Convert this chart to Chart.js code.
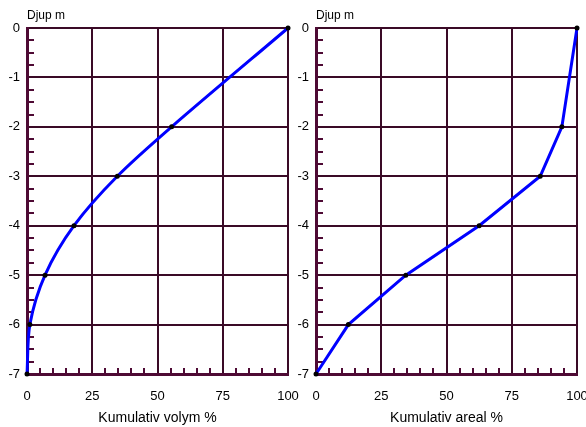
<!DOCTYPE html>
<html>
<head>
<meta charset="utf-8">
<script src="https://cdn.jsdelivr.net/npm/chart.js@4/dist/chart.umd.min.js"></script>
<style>
  html, body { margin: 0; padding: 0; background: #fff; }
  body { width: 586px; height: 427px; position: relative; overflow: hidden; }
  canvas { position: absolute; top: 0; }
  #volymChart { left: 0; }
  #arealChart { left: 290px; }
</style>
</head>
<body>
<canvas id="volymChart" width="300" height="427"></canvas>
<canvas id="arealChart" width="296" height="427"></canvas>
<script>
(function() {
    'use strict';

    /* ---- Data ---- */
    var depths = [0, -2, -3, -4, -5, -6, -7];          // Djup m
    var volymPct = [100, 55.4, 34.6, 18.0, 6.9, 1.1, 0]; // Kumulativ volym %
    var arealPct = [100, 94.2, 85.9, 62.5, 34.4, 12.4, 0]; // Kumulativ areal %
    var xTicks = [0, 25, 50, 75, 100];
    var yTicks = [0, -1, -2, -3, -4, -5, -6, -7];

    var GRID = '#3a0a26';
    var AXIS = '#4e0a34';
    var FONT = "'Liberation Sans', Arial, sans-serif";

    /* ---- Minor ticks + "Djup m" caption ---- */
    var minorTicks = {
        id: 'minorTicks',
        beforeDatasetsDraw: function(chart) {
            var ctx = chart.ctx, x = chart.scales.x, y = chart.scales.y;
            ctx.save();
            ctx.strokeStyle = AXIS;
            ctx.lineWidth = 2;
            ctx.beginPath();
            for (var i = 0; i <= 28; i++) {
                if (i % 4 === 0) continue;
                var py = Math.round(y.getPixelForValue(-i / 4));
                ctx.moveTo(x.left, py);
                ctx.lineTo(x.left + 7, py);
            }
            for (var j = 0; j <= 20; j++) {
                if (j % 5 === 0) continue;
                var px = Math.round(x.getPixelForValue(j * 5));
                ctx.moveTo(px, y.bottom);
                ctx.lineTo(px, y.bottom - 6);
            }
            ctx.stroke();
            ctx.restore();
        },
        afterDraw: function(chart) {
            var ctx = chart.ctx;
            ctx.save();
            ctx.fillStyle = '#000';
            ctx.font = '12px ' + FONT;
            ctx.textAlign = 'left';
            ctx.textBaseline = 'alphabetic';
            ctx.fillText('Djup m', chart.chartArea.left, 19);
            ctx.restore();
        }
    };

    function makeChart(id, values, xTitle, yWidth, padRight) {
        var pts = depths.map(function(d, i) { return { x: values[i], y: d }; });
        return new Chart(document.getElementById(id).getContext('2d'), {
            type: 'line',
            data: {
                datasets: [{
                    data: pts,
                    borderColor: '#0000ff',
                    borderWidth: 3,
                    tension: id === 'volymChart' ? 0.3 : 0,
                    pointRadius: 2.5,
                    pointBackgroundColor: '#000',
                    pointBorderWidth: 0,
                    clip: false
                }]
            },
            options: {
                responsive: false,
                animation: false,
                layout: { padding: { top: 28, right: padRight, bottom: 0, left: 0 } },
                plugins: { legend: { display: false }, tooltip: { enabled: false } },
                scales: {
                    x: {
                        type: 'linear', min: 0, max: 100,
                        afterBuildTicks: function(s) { s.ticks = xTicks.map(function(v) { return { value: v }; }); },
                        afterFit: function(s) { s.height = 53; s.paddingRight = 0; s.paddingLeft = 0; },
                        ticks: { color: '#000', font: { size: 13, family: FONT }, padding: 15 },
                        grid: { color: GRID, lineWidth: 2, drawTicks: false },
                        border: { display: true, color: AXIS, width: 3 },
                        title: { display: true, text: xTitle, color: '#000', font: { size: 14, family: FONT }, padding: { top: 3, bottom: 0 } }
                    },
                    y: {
                        type: 'linear', min: -7, max: 0,
                        afterBuildTicks: function(s) { s.ticks = yTicks.map(function(v) { return { value: v }; }); },
                        afterFit: function(s) { s.width = yWidth; s.paddingTop = 0; s.paddingBottom = 0; },
                        ticks: { color: '#000', font: { size: 13, family: FONT }, padding: 7 },
                        grid: { color: GRID, lineWidth: 2, drawTicks: false },
                        border: { display: true, color: AXIS, width: 3 }
                    }
                }
            },
            plugins: [minorTicks]
        });
    }

    makeChart('volymChart', volymPct, 'Kumulativ volym %', 27, 12);
    makeChart('arealChart', arealPct, 'Kumulativ areal %', 26, 9);
})();
</script>
</body>
</html>
